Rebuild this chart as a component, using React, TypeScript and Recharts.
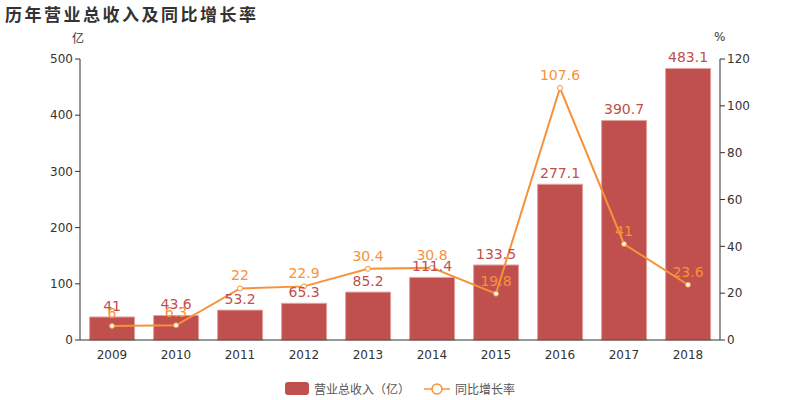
import { Bar, ComposedChart, LabelList, Line, XAxis, YAxis } from "recharts";

const years = ["2009", "2010", "2011", "2012", "2013", "2014", "2015", "2016", "2017", "2018"];
const revenue = [41, 43.6, 53.2, 65.3, 85.2, 111.4, 133.5, 277.1, 390.7, 483.1];
const growth = [6, 6.3, 22, 22.9, 30.4, 30.8, 19.8, 107.6, 41, 23.6];
const leftTicks = [0, 100, 200, 300, 400, 500];
const rightTicks = [0, 20, 40, 60, 80, 100, 120];
const boundaryTicks = [0, 1, 2, 3, 4, 5, 6, 7, 8, 9, 10];

const data = years.map((year, i) => ({ year, revenue: revenue[i], growth: growth[i] }));

const font = "'DejaVu Sans', 'Noto Sans CJK SC', sans-serif";
const cjkFont = "'Noto Sans CJK SC', sans-serif";
const barColor = "#c0504d";
const lineColor = "#f7923a";
const axisColor = "#333";

export default function App() {
  return (
    <div style={{ position: "absolute", left: 0, top: 0, width: 800, height: 400, fontFamily: font }}>
      <div style={{ position: "absolute", left: 5, top: 1, fontSize: 17, fontWeight: "bold", color: "#333", letterSpacing: 2.5, fontFamily: cjkFont }}>
        历年营业总收入及同比增长率
      </div>
      <div style={{ position: "absolute", left: 72, top: 29, fontSize: 12, color: "#333", fontFamily: cjkFont }}>亿</div>
      <div style={{ position: "absolute", left: 714, top: 30, fontSize: 12, color: "#333" }}>%</div>
      <ComposedChart
        width={800}
        height={400}
        data={data}
        margin={{ top: 59, right: 20, left: 20, bottom: 30 }}
        barCategoryGap="15%"
        style={{ fontFamily: font }}
      >
        <XAxis
          xAxisId="grid"
          type="number"
          domain={[0, 10]}
          ticks={boundaryTicks}
          tick={false}
          height={0}
          axisLine={false}
          tickLine={{ stroke: axisColor }}
          tickSize={5}
        />
        <XAxis
          xAxisId="main"
          dataKey="year"
          height={30}
          tickLine={false}
          axisLine={{ stroke: axisColor }}
          tick={{ fill: axisColor, fontSize: 12 }}
          tickMargin={6}
          tickSize={4}
        />
        <YAxis
          yAxisId="left"
          width={60}
          domain={[0, 500]}
          ticks={leftTicks}
          axisLine={{ stroke: axisColor }}
          tickLine={{ stroke: axisColor }}
          tickSize={5}
          tick={{ fill: axisColor, fontSize: 12 }}
        />
        <YAxis
          yAxisId="right"
          orientation="right"
          width={60}
          domain={[0, 120]}
          ticks={rightTicks}
          axisLine={{ stroke: axisColor }}
          tickLine={{ stroke: axisColor }}
          tickSize={5}
          tick={{ fill: axisColor, fontSize: 12 }}
        />
        <Bar
          xAxisId="main"
          yAxisId="left"
          dataKey="revenue"
          fill={barColor}
          stroke="#e3a3a1"
          strokeWidth={1}
          isAnimationActive={false}
        >
          <LabelList dataKey="revenue" position="top" offset={6} fill={barColor} fontSize={14} />
        </Bar>
        <Line
          xAxisId="main"
          yAxisId="right"
          dataKey="growth"
          stroke={lineColor}
          strokeWidth={2}
          dot={{ r: 2.5, fill: "#fff", stroke: lineColor, strokeWidth: 1 }}
          isAnimationActive={false}
        >
          <LabelList dataKey="growth" position="top" offset={8} fill={lineColor} fontSize={14} />
        </Line>
      </ComposedChart>
      <div
        style={{
          position: "absolute",
          top: 380,
          left: 0,
          width: 800,
          display: "flex",
          justifyContent: "center",
          alignItems: "center",
          fontSize: 12,
          color: "#555",
          fontFamily: cjkFont,
        }}
      >
        <span style={{ display: "inline-block", width: 24, height: 13, background: barColor, borderRadius: 3, marginRight: 5 }} />
        <span>营业总收入（亿）</span>
        <svg width={26} height={14} style={{ marginLeft: 14, marginRight: 5 }}>
          <line x1={0} y1={7} x2={26} y2={7} stroke={lineColor} strokeWidth={1.5} />
          <circle cx={13} cy={7} r={5} fill="#fff" stroke={lineColor} strokeWidth={1.5} />
        </svg>
        <span>同比增长率</span>
      </div>
    </div>
  );
}
